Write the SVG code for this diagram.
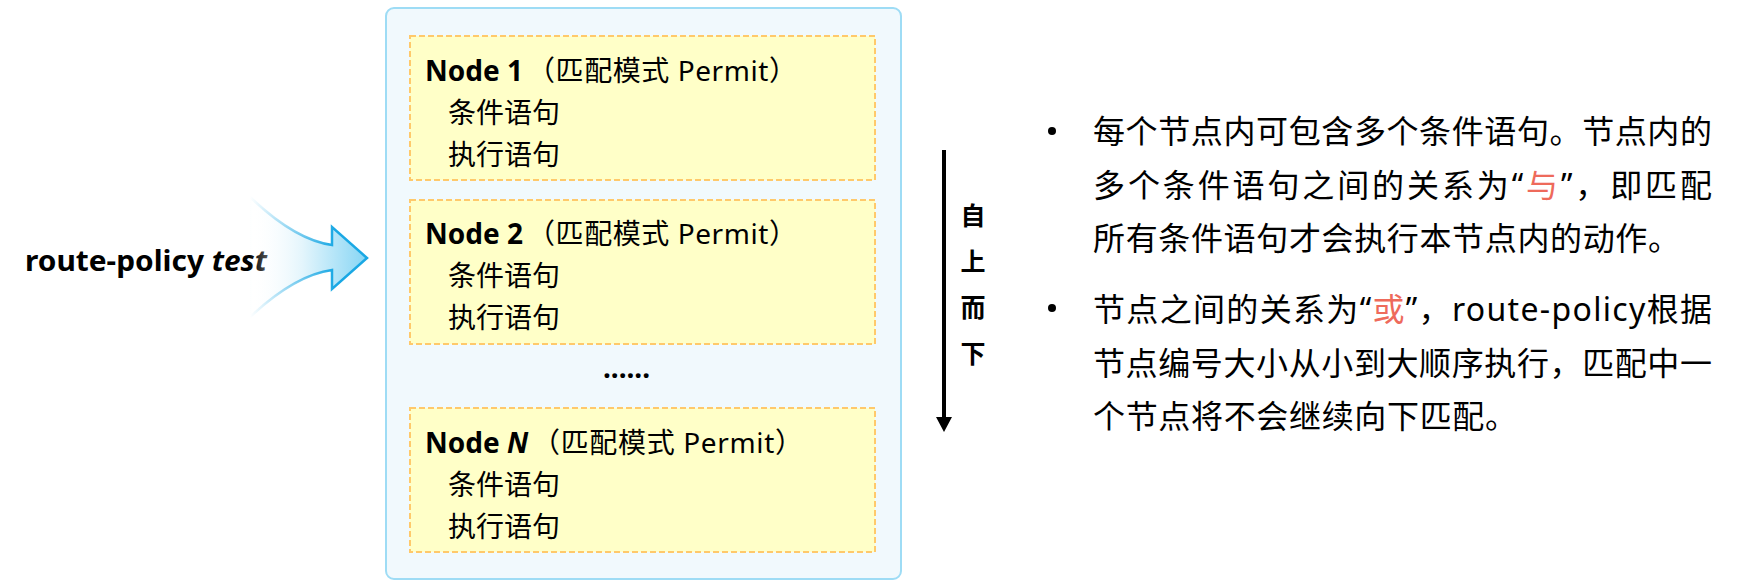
<svg xmlns="http://www.w3.org/2000/svg" width="1748" height="588" viewBox="0 0 1748 588">
<defs>
<style>
text{font-family:"Noto Sans","Noto Sans CJK SC",sans-serif;fill:#000}
.nbox{fill:#ffffc8;stroke:#ffc96b;stroke-width:2;stroke-dasharray:6,3}
.t{font-size:28px}
.b{font-weight:bold}
.bi{font-weight:bold;font-style:italic}
.r{font-size:32px}
.red{fill:#ee6a5b}
</style>
<linearGradient id="af" gradientUnits="userSpaceOnUse" x1="250" y1="0" x2="367" y2="0">
<stop offset="0" stop-color="#ffffff" stop-opacity="0"/>
<stop offset="0.45" stop-color="#e3f5fc"/>
<stop offset="1" stop-color="#86d5f4"/>
</linearGradient>
<linearGradient id="as" gradientUnits="userSpaceOnUse" x1="250" y1="0" x2="335" y2="0">
<stop offset="0" stop-color="#1aa8e4" stop-opacity="0"/>
<stop offset="0.6" stop-color="#1aa8e4" stop-opacity="0.6"/>
<stop offset="1" stop-color="#1aa8e4"/>
</linearGradient>
</defs>
<rect width="1748" height="588" fill="#ffffff"/>

<g id="input">
<text x="25" y="271" font-size="28" font-weight="bold" textLength="242" lengthAdjust="spacingAndGlyphs">route-policy <tspan class="bi">test</tspan></text>
<path d="M250,197 Q295,240 332,245 L332,227 L367,258 L332,289 L332,270 Q295,275 250,317 Z" fill="url(#af)" stroke="url(#as)" stroke-width="2.5" stroke-linejoin="miter"/>
</g>

<g id="policy">
<rect x="386" y="8" width="515" height="571" rx="8" fill="#f1f9fd" stroke="#9edcf5" stroke-width="2"/>
</g>

<g id="node1">
<rect class="nbox" x="410" y="36" width="465" height="144"/>
<text class="t b" x="425" y="81">Node 1</text>
<text class="t" x="527" y="81" textLength="270" lengthAdjust="spacing">（匹配模式 Permit）</text>
<text class="t" x="448" y="123">条件语句</text>
<text class="t" x="448" y="165">执行语句</text>
</g>

<g id="node2">
<rect class="nbox" x="410" y="200" width="465" height="144"/>
<text class="t b" x="425" y="244">Node 2</text>
<text class="t" x="527" y="244" textLength="270" lengthAdjust="spacing">（匹配模式 Permit）</text>
<text class="t" x="448" y="286">条件语句</text>
<text class="t" x="448" y="328">执行语句</text>
</g>

<g id="ellipsis">
<text class="t b" x="603" y="378" textLength="47" lengthAdjust="spacing">......</text>
</g>

<g id="nodeN">
<rect class="nbox" x="410" y="408" width="465" height="144"/>
<text class="t b" x="425" y="453">Node <tspan class="bi">N</tspan></text>
<text class="t" x="532" y="453" textLength="271" lengthAdjust="spacing">（匹配模式 Permit）</text>
<text class="t" x="448" y="495">条件语句</text>
<text class="t" x="448" y="537">执行语句</text>
</g>

<g id="connectors">
<line x1="944" y1="150" x2="944" y2="419" stroke="#000" stroke-width="4"/>
<polygon points="936,417 952,417 944,432" fill="#000"/>
</g>

<g id="order-label">
<text font-size="25" font-weight="bold" text-anchor="middle" x="973" y="225">自</text>
<text font-size="25" font-weight="bold" text-anchor="middle" x="973" y="271">上</text>
<text font-size="25" font-weight="bold" text-anchor="middle" x="973" y="317">而</text>
<text font-size="25" font-weight="bold" text-anchor="middle" x="973" y="363">下</text>
</g>

<g id="notes">
<circle cx="1052" cy="131" r="4" fill="#000"/>
<text class="r" x="1093" y="143" textLength="619" lengthAdjust="spacing">每个节点内可包含多个条件语句。节点内的</text>
<text class="r" x="1093" y="197" textLength="619" lengthAdjust="spacing">多个条件语句之间的关系为“<tspan class="red">与</tspan>”，即匹配</text>
<text class="r" x="1093" y="250" textLength="587" lengthAdjust="spacing">所有条件语句才会执行本节点内的动作。</text>
<circle cx="1052" cy="308" r="4" fill="#000"/>
<text class="r" x="1093" y="321" textLength="619" lengthAdjust="spacing">节点之间的关系为“<tspan class="red">或</tspan>”，route-policy根据</text>
<text class="r" x="1093" y="375" textLength="619" lengthAdjust="spacing">节点编号大小从小到大顺序执行，匹配中一</text>
<text class="r" x="1093" y="428" textLength="424" lengthAdjust="spacing">个节点将不会继续向下匹配。</text>
</g>
</svg>
